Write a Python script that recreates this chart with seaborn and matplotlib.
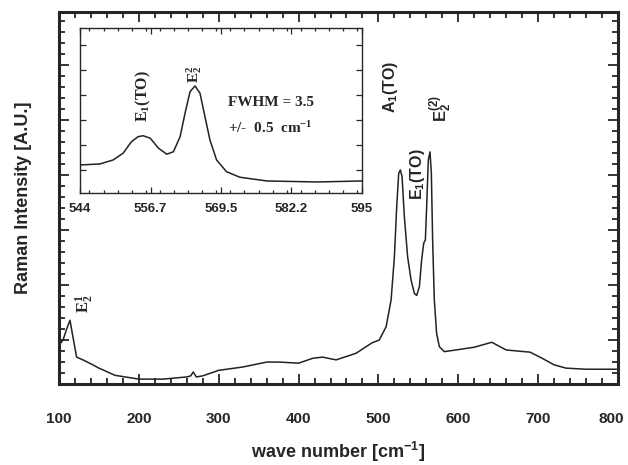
import numpy as np
import pandas as pd
import matplotlib.pyplot as plt
import matplotlib.transforms as mtransforms
import seaborn as sns
from matplotlib.ticker import MultipleLocator, FixedLocator

# =========================
# DATA

wave = [100, 105, 110, 113.75, 117, 122, 130, 141, 150, 170, 200, 230, 260, 265,
        268, 272, 280, 300, 330, 360, 376, 400, 418, 430, 447, 472, 492, 501, 509.6,
        515.9, 520, 522.9, 525.4, 527.5, 529.6, 532.5, 536.6, 540.9, 545, 547.9,
        551.3, 554.1, 556.7, 558.8, 560.4, 562.5, 564.6, 566.3, 567.9, 570, 572.9,
        576.3, 582.5, 597, 620, 642, 660, 690, 705, 720, 735, 760, 800]
intensity = [0.71, 0.80, 1.02, 1.16, 0.89, 0.49, 0.44, 0.36, 0.29, 0.16, 0.09, 0.09,
             0.13, 0.15, 0.22, 0.13, 0.15, 0.25, 0.31, 0.40, 0.40, 0.38, 0.47, 0.49,
             0.44, 0.56, 0.75, 0.80, 1.04, 1.53, 2.31, 3.22, 3.83, 3.89, 3.77, 3.04,
             2.31, 1.89, 1.65, 1.61, 1.77, 2.25, 2.56, 2.62, 3.22, 4.07, 4.22, 3.83,
             2.62, 1.53, 0.92, 0.68, 0.59, 0.62, 0.67, 0.76, 0.62, 0.58, 0.47, 0.35,
             0.29, 0.27, 0.27]

inset_wave = [544, 547.6, 550.0, 551.8, 553.3, 554.5, 555.4, 556.7, 558.2, 559.7,
              560.9, 562.1, 563.0, 563.9, 564.8, 565.7, 566.6, 567.5, 568.7, 570.5,
              572.9, 577.8, 586.9, 595]
inset_intensity = [1.12, 1.16, 1.32, 1.59, 2.05, 2.25, 2.29, 2.19, 1.79, 1.55, 1.65,
                   2.25, 3.19, 4.05, 4.28, 3.99, 3.05, 2.12, 1.32, 0.85, 0.63, 0.48,
                   0.44, 0.48]

inset_ticks = [544, 556.75, 569.5, 582.25, 595]
inset_ticklabels = ["544", "556.7", "569.5", "582.2", "595"]

df = pd.DataFrame({"wave": wave, "intensity": intensity})
df_in = pd.DataFrame({"wave": inset_wave, "intensity": inset_intensity})

# =========================
# PLOT

sns.set_style("ticks")
plt.rcParams['font.family'] = ['Liberation Sans', 'DejaVu Sans']
plt.rcParams['mathtext.fontset'] = 'custom'
plt.rcParams['mathtext.rm'] = 'Liberation Sans:bold'
plt.rcParams['mathtext.it'] = 'Liberation Sans:bold'
plt.rcParams['mathtext.bf'] = 'Liberation Sans:bold'
plt.rcParams['mathtext.sf'] = 'Liberation Serif:bold'

fig = plt.figure(figsize=(6.28, 4.65), dpi=100)
ax = fig.add_axes([0.094, 0.174, 0.890, 0.800])

sns.lineplot(data=df, x="wave", y="intensity", ax=ax, color="#222222", lw=1.1)
ax.set_xlim(100, 800)
ax.set_ylim(0, 6.76)
ax.xaxis.set_major_locator(MultipleLocator(100))
ax.xaxis.set_minor_locator(MultipleLocator(20))
ax.yaxis.set_major_locator(MultipleLocator(1, offset=0.8))
ax.yaxis.set_minor_locator(MultipleLocator(0.2))
ax.tick_params(which="both", direction="in", top=True, right=True, width=1.3)
ax.tick_params(which="major", length=7)
ax.tick_params(which="minor", length=4)
ax.tick_params(axis="x", pad=20, labelsize=11)
ax.set_yticklabels([])
labels = ax.get_xticklabels()
for lab in labels:
    lab.set_fontweight("bold")
# nudge the last label ("800") so it stays inside the picture
shift = mtransforms.ScaledTranslation(-5 / 72, 0, fig.dpi_scale_trans)
for lab in labels:
    if lab.get_text() == "800":
        lab.set_transform(lab.get_transform() + shift)
for s in ax.spines.values():
    s.set_linewidth(2.2)
ax.set_xlabel("wave number [cm$^{-1}$]", fontsize=13, fontweight="bold", labelpad=10)
ax.set_ylabel("Raman Intensity [A.U.]", fontsize=13, fontweight="bold", labelpad=16)

# peak labels
ax.text(515, 4.93, "A$_1$(TO)", rotation=90, ha="center", va="bottom",
        fontsize=11.5, fontweight="bold")
ax.text(549, 3.35, "E$_1$(TO)", rotation=90, ha="center", va="bottom",
        fontsize=11.5, fontweight="bold")
ax.text(578, 4.76, "E$^{(2)}_2$", rotation=90, ha="center", va="bottom",
        fontsize=12, fontweight="bold")
ax.text(132, 1.29, r"$\mathsf{E^{1}_{2}}$", rotation=90, ha="center", va="bottom",
        fontsize=12)

# inset
axi = fig.add_axes([0.1274, 0.585, 0.449, 0.355])
sns.lineplot(data=df_in, x="wave", y="intensity", ax=axi, color="#222222", lw=1.1)
axi.set_xlim(544, 595)
axi.set_ylim(0, 6.6)
axi.xaxis.set_major_locator(FixedLocator(inset_ticks))
axi.set_xticklabels(inset_ticklabels)
axi.xaxis.set_minor_locator(MultipleLocator(2.55))
axi.yaxis.set_major_locator(MultipleLocator(1, offset=0.92))
axi.set_yticklabels([])
axi.tick_params(which="both", direction="in", top=True, right=True, width=0.9)
axi.tick_params(which="major", length=4)
axi.tick_params(which="minor", length=2.5)
axi.tick_params(axis="x", pad=7, labelsize=9.5)
for lab in axi.get_xticklabels():
    lab.set_fontweight("bold")
for s in axi.spines.values():
    s.set_linewidth(1.0)
axi.set_xlabel("")
axi.set_ylabel("")

axi.text(555.4, 2.84, r"$\mathsf{E_1(TO)}$", rotation=90, ha="center", va="bottom",
         fontsize=11.5)
axi.text(564.6, 4.4, r"$\mathsf{E^2_2}$", rotation=90, ha="center", va="bottom",
         fontsize=11)
axi.text(578.5, 3.6, "FWHM = 3.5", ha="center", va="center",
         fontsize=11, fontweight="bold", family="Liberation Serif")
axi.text(578.5, 2.6, r"+/-  0.5  cm$\mathsf{^{-1}}$", ha="center", va="center",
         fontsize=11, fontweight="bold", family="Liberation Serif")

fig.savefig("out.png", dpi=100)
